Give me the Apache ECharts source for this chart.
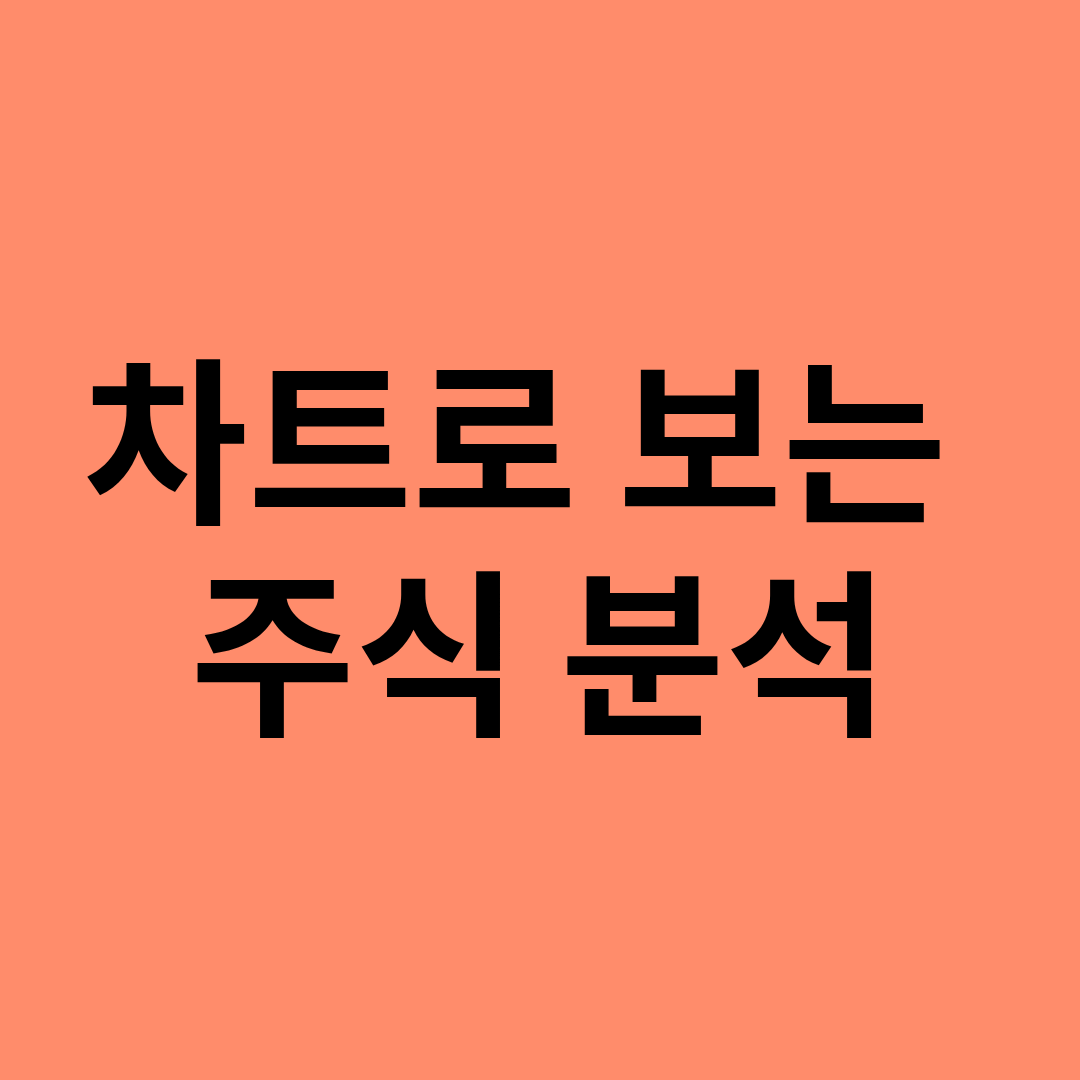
<!DOCTYPE html>
<html>
<head>
<meta charset="utf-8">
<script src="https://cdn.jsdelivr.net/npm/echarts@6/dist/echarts.min.js"></script>
<style>
  html, body { margin: 0; padding: 0; }
  #chart { width: 1080px; height: 1080px; }
</style>
</head>
<body>
<div id="chart"></div>
<script>
// 제목 줄
const titleLines = ['차트로 보는', '주식 분석'];
const lineCenters = [[515, 442], [540, 654]];

const chartDom = document.getElementById('chart');
const myChart = echarts.init(chartDom);

const option = {
  backgroundColor: '#FF8C6B',
  graphic: titleLines.map((t, i) => ({
    type: 'text',
    x: lineCenters[i][0],
    y: lineCenters[i][1],
    style: {
      text: t,
      fill: '#000000',
      fontSize: 179,
      fontWeight: 'bold',
      fontFamily: '"Noto Sans CJK KR", sans-serif',
      textAlign: 'center',
      textVerticalAlign: 'middle'
    }
  }))
};
option && myChart.setOption(option);
</script>
</body>
</html>
